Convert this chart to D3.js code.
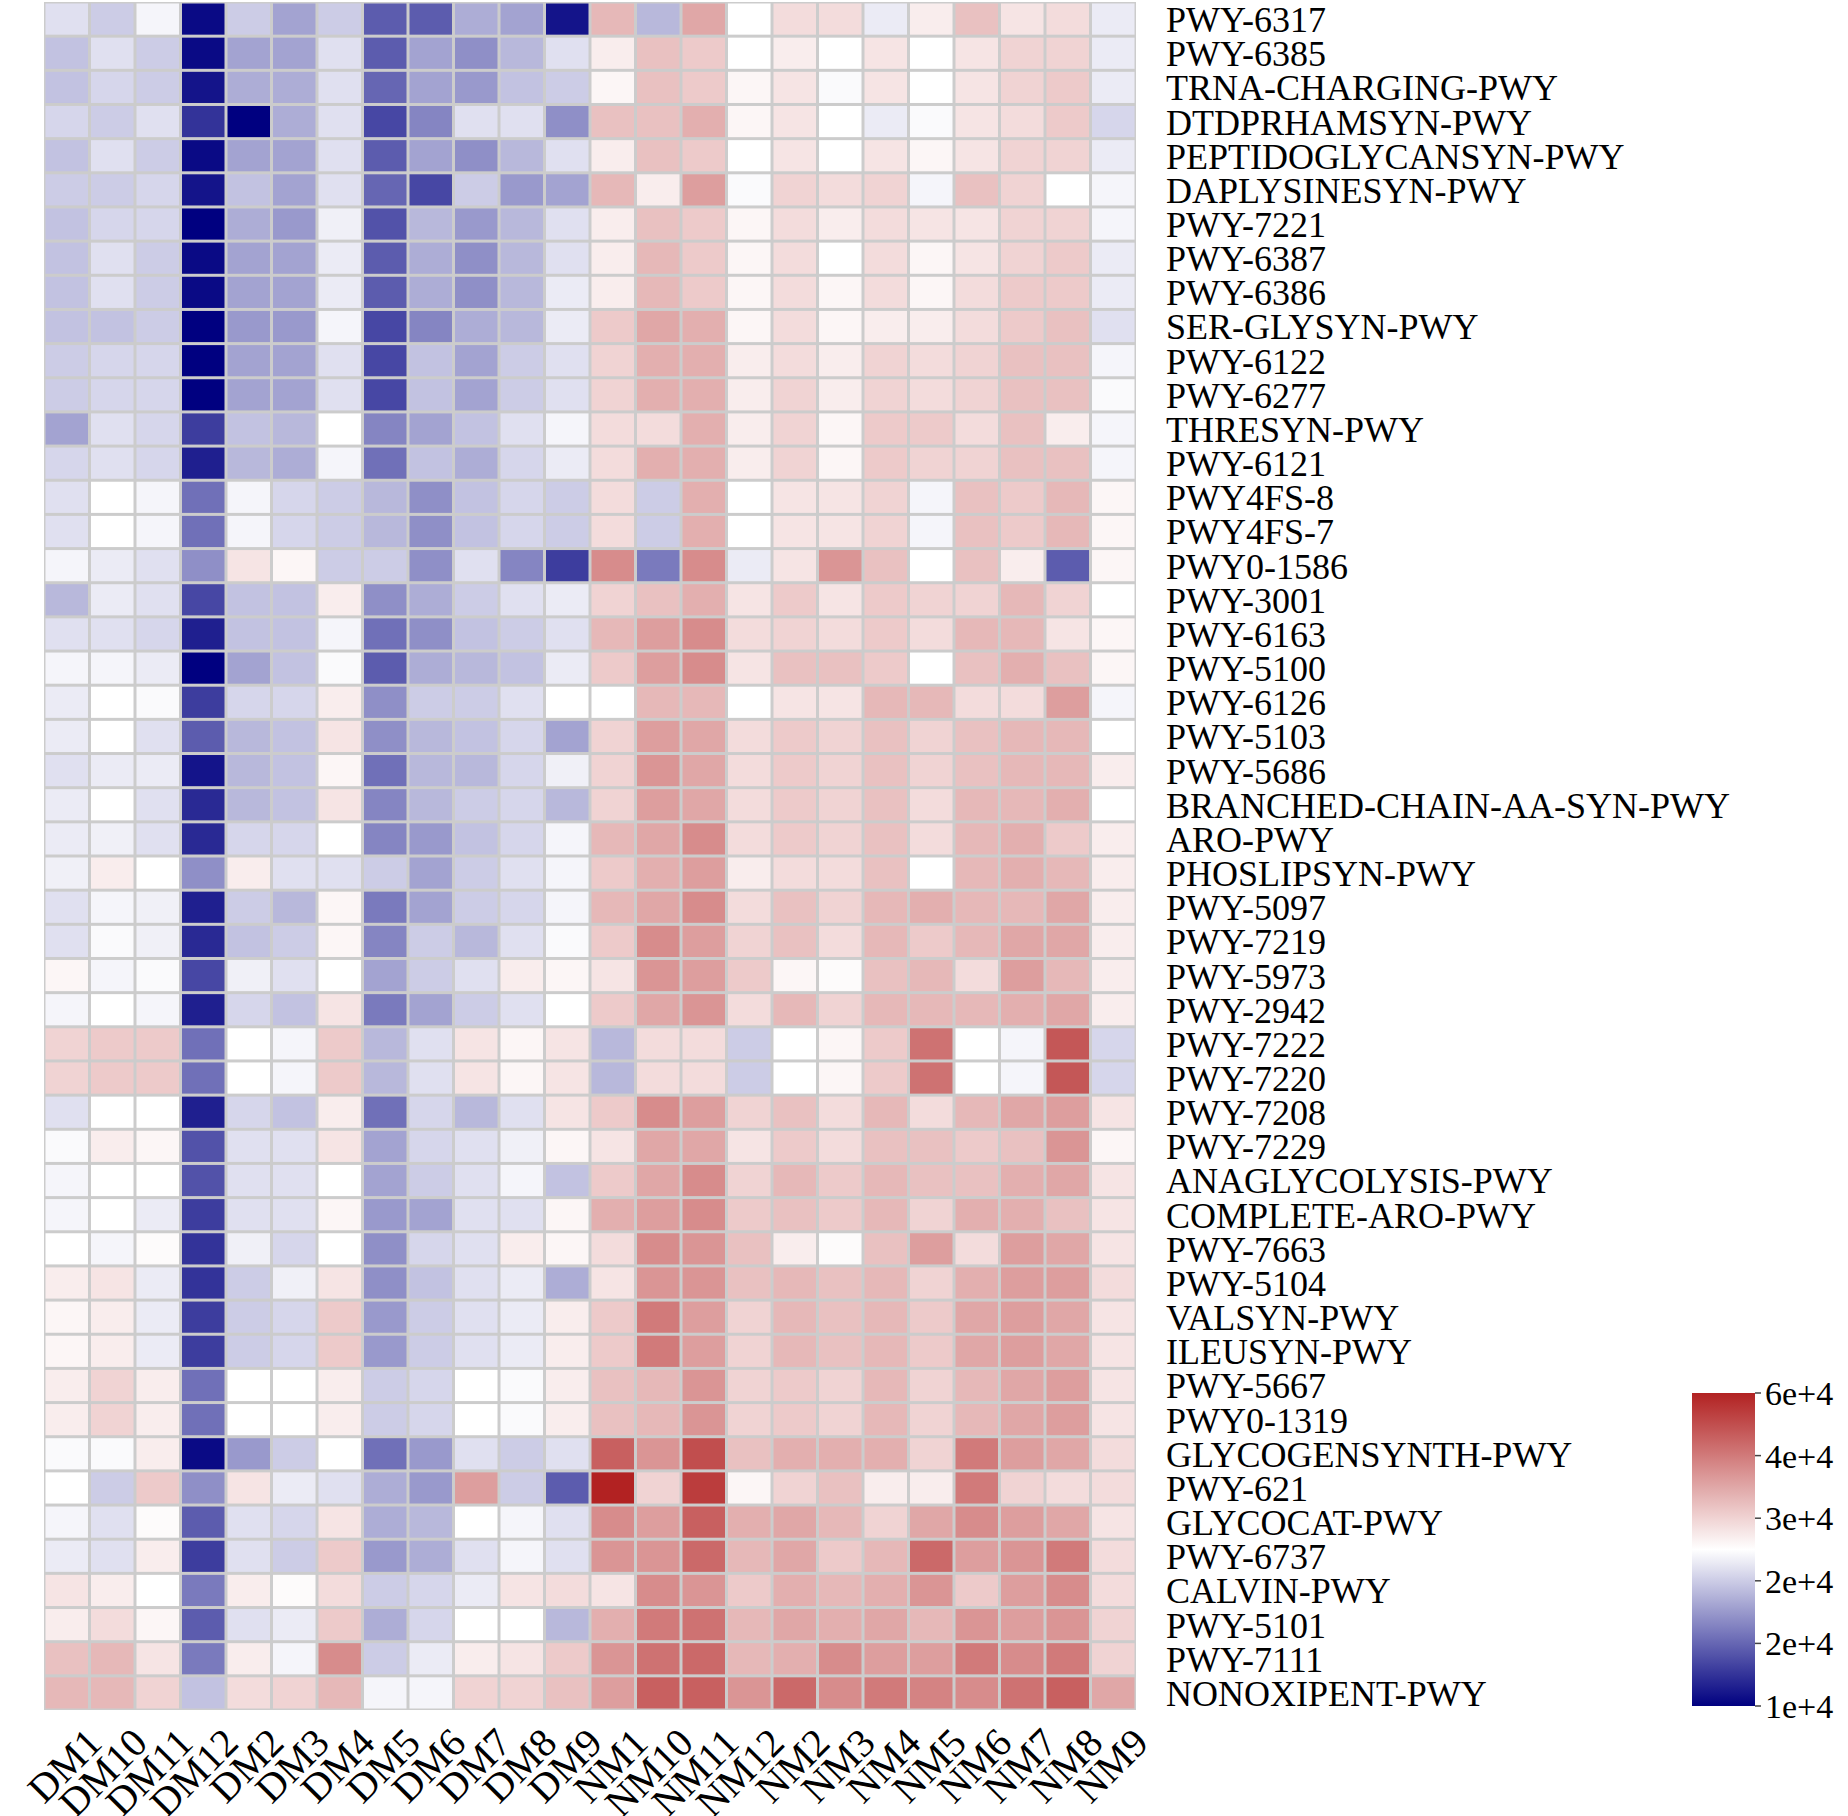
<!DOCTYPE html>
<html>
<head>
<meta charset="utf-8">
<script src="https://cdn.jsdelivr.net/npm/d3@7"></script>
<style>
  body { margin: 0; background: #fff; }
  svg text { font-family: "Liberation Serif", "Times New Roman", serif; fill: #000; }
</style>
</head>
<body>
<svg id="chart" width="1848" height="1816"></svg>
<script>
const samples = ['DM1','DM10','DM11','DM12','DM2','DM3','DM4','DM5','DM6','DM7','DM8','DM9',
  'NM1','NM10','NM11','NM12','NM2','NM3','NM4','NM5','NM6','NM7','NM8','NM9'];

const pathways = ['PWY-6317','PWY-6385','TRNA-CHARGING-PWY','DTDPRHAMSYN-PWY','PEPTIDOGLYCANSYN-PWY',
  'DAPLYSINESYN-PWY','PWY-7221','PWY-6387','PWY-6386','SER-GLYSYN-PWY','PWY-6122','PWY-6277',
  'THRESYN-PWY','PWY-6121','PWY4FS-8','PWY4FS-7','PWY0-1586','PWY-3001','PWY-6163','PWY-5100',
  'PWY-6126','PWY-5103','PWY-5686','BRANCHED-CHAIN-AA-SYN-PWY','ARO-PWY','PHOSLIPSYN-PWY',
  'PWY-5097','PWY-7219','PWY-5973','PWY-2942','PWY-7222','PWY-7220','PWY-7208','PWY-7229',
  'ANAGLYCOLYSIS-PWY','COMPLETE-ARO-PWY','PWY-7663','PWY-5104','VALSYN-PWY','ILEUSYN-PWY',
  'PWY-5667','PWY0-1319','GLYCOGENSYNTH-PWY','PWY-621','GLYCOCAT-PWY','PWY-6737','CALVIN-PWY',
  'PWY-5101','PWY-7111','NONOXIPENT-PWY'];

// abundance, in thousands
const values = [
  [32,30,34,11,30,26,30,19,19,27,26,12, 43,28,45,35,39,39,33,37,42,38,39,33],
  [29,32,30,11,26,26,32,19,26,24,28,32, 37,42,41,35,37,35,38,35,38,40,40,33],
  [29,31,30,12,27,27,32,20,26,25,29,30, 36,42,41,36,38,34.5,38,35,38,40,41,33],
  [31,30,32,15,10,27,32,17,23,32,32,24, 42,42,44,36,38,35,33,34.5,38,39,41,31],
  [29,32,30,11,26,26,32,19,26,24,28,32, 37,42,41,35,38,35,38,36,38,40,40,33],
  [30,30,31,12,29,26,32,20,17,30,25,26, 43,37,46,34.5,40,39,40,34,42,40,35,34],
  [29,31,31,10,27,25,33.5,18,28,25,28,32, 37,42,41,36,39,37,39,38,38,40,40,34],
  [29,32,30,11,26,26,33,19,27,24,28,32, 37,43,41,36,39,35,39,36,38,40,41,33],
  [29,32,30,11,26,26,33,19,27,24,28,33, 37,43,41,36,39,36,39,36,39,41,41,33],
  [29,29,30,10,25,25,34,17,23,27,28,33, 41,45,44,36,39,36,37,37,39,41,42,32],
  [30,31,31,10,26,26,32,17,29,26,30,32, 40,44,44,37,39,37,40,39,40,42,42,34],
  [30,31,31,10,26,26,32,17,29,26,30,32, 40,44,44,37,40,37,40,39,40,42,42,34.5],
  [26,32,31,16,29,28,35,23,26,29,32,34, 39,39,44,37,40,36,41,41,39,42,37,34],
  [31,32,31,13,28,27,34,21,29,27,31,33, 39,44,44,37,40,36,41,40,40,42,42,34],
  [32,35,34,21,34,31,30,28,24,29,31,30, 39,30,44,35,38,38,40,34,42,41,43,36],
  [32,35,34,21,34,31,30,28,24,29,31,30, 39,30,44,35,38,38,40,34,42,41,43,36],
  [34,33,32,24,38,36,30,30,24,32,23,16, 48,22,48,33,38,47,42,35,42,37,19,36],
  [28,33,32,17,29,29,37,24,27,30,32,33, 40,42,44,38,41,38,41,40,40,43,40,35],
  [32,32,31,13,29,29,34,21,24,29,30,32, 43,46,48,39,40,39,41,39,43,43,38,36],
  [34,34,33,10,26,29,34.5,19,27,28,29,33, 41,46,48,38,42,42,41,35,42,44,42,36],
  [33,35,34.5,16,31,31,37,24,30,30,32,35, 35,43,43,35,38,38,43,43,39,39,46,34],
  [33,35,32,19,28,29,38,24,28,29,31,26, 40,46,45,39,41,40,42,40,42,43,43,35],
  [32,33,33,12,28,29,36,21,28,28,31,33.5, 40,47,45,39,41,40,42,40,42,43,43,37],
  [33,35,32,14,28,29,38,23,28,30,31,28, 40,46,45,39,41,40,42,39,43,43,44,35],
  [33,33.5,32,14,31,31,35,23,25,29,31,34, 43,45,48,39,41,40,42,39,43,44,41,37],
  [33.5,37,35,24,37,32,32,30,26,30,32,34, 41,44,46,37,39,39,42,35,43,44,43,37],
  [32,34,33.5,13,30,28,36,22,26,30,31,34, 43,45,48,39,42,40,43,44,43,43,45,37],
  [32,34.5,33.5,14,29,30,36,23,30,28,32,34.5, 41,48,46,40,42,39,43,41,43,45,45,37],
  [36,34,34.5,17,33.5,32,35,26,30,32,37,36, 38,47,46,41,36,35.5,42,43,39,46,43,37],
  [34,35,34,13,31,29,38,22,26,30,32,35, 41,45,47,39,43,40,43,43,43,44,45,37],
  [40,41,41,21,35,34,41,28,32,38,36,38, 28,39,39,30,35,36,41,51,35,34,54,31],
  [40,41,41,21,35,34,41,28,32,38,36,38, 28,39,39,30,35,36,41,51,35,34,54,31],
  [32,35,35,13,31,29,37,21,31,28,32,38, 41,48,46,40,42,39,43,39,43,45,46,38],
  [34.5,37,36,18,32,32,38,26,31,32,33.5,36, 38,45,45,38,41,39,42,42,41,42,47,36],
  [34,35,35,18,32,32,35,26,30,32,34,29, 41,45,48,40,43,41,43,42,42,44,45,38],
  [34,35,33,16,32,32,36,25,26,32,32,36, 44,46,48,41,42,41,43,40,44,44,42,38],
  [35,34,35.5,15,33.5,31,35,24,31,32,37,36, 39,48,47,42,37,35.5,42,46,39,46,45,38],
  [37,38,33,15,30,33.5,38,24,29,32,33,27, 38,47,47,42,43,42,43,40,44,46,46,39],
  [36,37,33,16,30,31,41,25,30,32,33,37, 41,50,46,40,43,42,43,41,45,46,45,38],
  [36,37,33,16,30,31,41,25,30,32,33,37, 41,50,46,40,43,42,43,41,45,46,45,38],
  [37,40,37,21,35,35,37,30,31,35,34.5,37, 42,43,47,40,41,40,43,40,43,45,46,38],
  [37,40,37,21,35,35,37,30,31,35,34.5,37, 42,43,47,40,41,40,43,40,43,45,46,38],
  [34.5,34.5,37,11,25,30,35,21,25,32,30,32, 53,47,55,42,44,44,44,40,50,46,45,39],
  [35,30,41,24,38,33,32,27,25,46,30,19, 60,40,57,36,40,42,37,37,50,40,39,39],
  [34,32,35.5,19,32,31,38,27,28,35,34,32, 48,46,53,44,45,43,40,45,48,46,45,38],
  [33,32,37,16,32,30,41,25,27,32,34,32, 47,47,52,43,45,41,43,52,46,47,50,39],
  [38,37,35,22,37,35.5,39,30,31,33,38,39, 38,48,47,41,44,43,44,47,41,46,48,39],
  [37,39,36,19,32,33,41,27,31,35,35,28, 44,50,51,43,45,44,45,43,47,46,47,40],
  [42,43,38,22,37,34,48,30,33,37,38,41, 47,51,52,43,44,48,46,46,50,48,50,40],
  [43,43,40,29,39,40,43,34,34,40,40,42, 46,53,53,47,52,48,50,49,48,51,53,45]
];

const legendTicks = [60, 50, 40, 30, 20, 10];
const legendLabels = ['6e+4', '4e+4', '3e+4', '2e+4', '2e+4', '1e+4'];

const svg = d3.select('#chart');
const hm = { left: 44, top: 2, right: 1136, bottom: 1710 };

const x = d3.scaleBand().domain(samples).range([hm.left, hm.right]);
const y = d3.scaleBand().domain(pathways).range([hm.top, hm.bottom]);
const color = d3.scaleLinear().domain([10, 35, 60]).range(['#000080', '#ffffff', '#b22222']);

svg.append('rect')
  .attr('x', hm.left).attr('y', hm.top)
  .attr('width', hm.right - hm.left).attr('height', hm.bottom - hm.top)
  .attr('fill', '#cccccc');

const cells = [];
values.forEach((row, i) => row.forEach((v, j) => cells.push({ p: pathways[i], s: samples[j], v })));

svg.append('g').selectAll('rect').data(cells).join('rect')
  .attr('x', d => x(d.s) + 1.5)
  .attr('y', d => y(d.p) + 1.5)
  .attr('width', x.bandwidth() - 3)
  .attr('height', y.bandwidth() - 3)
  .attr('fill', d => color(d.v));

svg.append('g').selectAll('text').data(pathways).join('text')
  .attr('x', 1166)
  .attr('y', d => y(d) + y.bandwidth() / 2)
  .attr('dy', '0.36em')
  .attr('font-size', 36)
  .text(d => d);

svg.append('g').selectAll('text').data(samples).join('text')
  .attr('transform', d => `translate(${x(d) + x.bandwidth() / 2 + 16},${hm.bottom + 14}) rotate(-45)`)
  .attr('text-anchor', 'end')
  .attr('dy', '0.75em')
  .attr('font-size', 40)
  .text(d => d);

// legend
const lg = { x: 1692, w: 63, top: 1393, bottom: 1706 };
const ly = d3.scaleLinear().domain([10, 60]).range([lg.bottom, lg.top]);
const defs = svg.append('defs');
const grad = defs.append('linearGradient').attr('id', 'lgGrad')
  .attr('x1', 0).attr('y1', 1).attr('x2', 0).attr('y2', 0);
d3.range(0, 1.01, 0.05).forEach(t => {
  grad.append('stop').attr('offset', t).attr('stop-color', color(10 + 50 * t));
});
svg.append('rect')
  .attr('x', lg.x).attr('y', lg.top)
  .attr('width', lg.w).attr('height', lg.bottom - lg.top)
  .attr('fill', 'url(#lgGrad)');

const lt = svg.append('g').selectAll('g').data(legendTicks).join('g')
  .attr('transform', d => `translate(${lg.x + lg.w},${ly(d)})`);
lt.append('line').attr('x1', 0).attr('x2', 6).attr('stroke', '#444').attr('stroke-width', 1.5);
lt.append('text')
  .attr('x', 10).attr('dy', '0.35em')
  .attr('font-size', 34)
  .text((d, i) => legendLabels[i]);
</script>
</body>
</html>
